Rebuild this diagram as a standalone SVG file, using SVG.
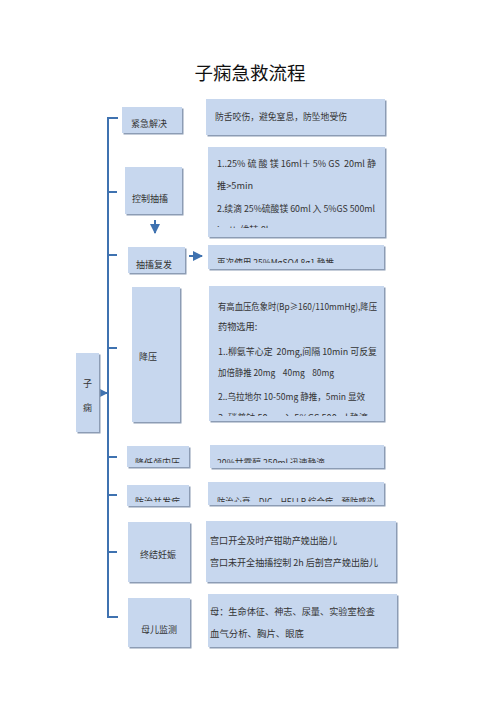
<svg xmlns="http://www.w3.org/2000/svg" width="500" height="708" viewBox="0 0 500 708">
<style>
.sh{fill:#8c9cb4}
.bx{fill:#c7d7ee}
.t{font-family:"Noto Sans CJK SC","Liberation Serif",serif;font-size:9.2px;fill:#333;white-space:pre}
.l{font-family:"Noto Sans CJK SC","Liberation Serif",serif;font-size:9px;fill:#333}
.ttl{font-family:"Noto Sans CJK SC","Liberation Serif",serif;font-size:18.5px;fill:#111}
.ln{stroke:#3f72b0;stroke-width:2;fill:none}
</style>
<defs>
<marker id="ah" viewBox="0 0 10 10" refX="9" refY="5" markerWidth="5" markerHeight="5" orient="auto">
<path d="M0,0 L10,5 L0,10 z" fill="#3f72b0"/>
</marker>
<clipPath id="c2"><rect x="200" y="140" width="200" height="88"/></clipPath>
<clipPath id="c3"><rect x="100" y="240" width="300" height="23"/></clipPath>
<clipPath id="c4"><rect x="200" y="280" width="200" height="136"/></clipPath>
<clipPath id="c5"><rect x="100" y="440" width="300" height="23"/></clipPath>
<clipPath id="c6"><rect x="100" y="480" width="300" height="22"/></clipPath>
</defs>
<rect width="500" height="708" fill="#fff"/>
<text class="ttl" x="250" y="80" text-anchor="middle">子痫急救流程</text>

<g id="connectors">
<path class="ln" d="M118,118 H108 V617 H118"/>
<path class="ln" d="M108,192 H117 M108,255 H117 M108,348 H117 M108,457 H117 M108,495 H117 M108,552 H117"/>
<path class="ln" d="M99,393 H107" marker-end="url(#ah)"/>
<path class="ln" d="M155,220 V233" marker-end="url(#ah)"/>
<path class="ln" d="M189,256 H202" marker-end="url(#ah)"/>
</g>

<g id="n-zixian">
<rect class="sh" x="77.5" y="354.5" width="23" height="79"/>
<rect class="bx" x="76" y="353" width="23" height="79"/>
<text class="l" x="87.5" y="387" text-anchor="middle">子</text>
<text class="l" x="87.5" y="411" text-anchor="middle">痫</text>
</g>

<g id="n-jinji">
<rect class="sh" x="123.5" y="108.5" width="60" height="26"/>
<rect class="bx" x="122" y="107" width="60" height="26"/>
<text class="l" x="131" y="127">紧急解决</text>
</g>
<g id="d-jinji">
<rect class="sh" x="207.5" y="100.5" width="179" height="36"/>
<rect class="bx" x="206" y="99" width="179" height="36"/>
<text class="t" x="215" y="120" textLength="132" lengthAdjust="spacingAndGlyphs">防舌咬伤，避免窒息，防坠地受伤</text>
</g>

<g id="n-kongzhi">
<rect class="sh" x="126.5" y="168.5" width="57" height="47"/>
<rect class="bx" x="125" y="167" width="57" height="47"/>
<text class="l" x="132" y="202">控制抽搐</text>
</g>
<g id="d-kongzhi">
<rect class="sh" x="209.5" y="148.5" width="177" height="90"/>
<rect class="bx" x="208" y="147" width="177" height="90"/>
<g clip-path="url(#c2)">
<text class="t" x="217" y="167" textLength="159" lengthAdjust="spacingAndGlyphs">1..25% 硫 酸 镁 16ml＋ 5% GS  20ml 静</text>
<text class="t" x="217" y="189">推&gt;5min</text>
<text class="t" x="217" y="212" textLength="158" lengthAdjust="spacingAndGlyphs">2.续滴 25%硫酸镁 60ml 入 5%GS 500ml</text>
<text class="t" x="217" y="233">ivgtt  维持 8h</text>
</g>
</g>

<g id="n-fufa">
<rect class="sh" x="129.5" y="248.5" width="57" height="26"/>
<rect class="bx" x="128" y="247" width="57" height="26"/>
<text class="l" x="136" y="268">抽搐复发</text>
</g>
<g id="d-fufa">
<rect class="sh" x="209.5" y="246.5" width="176" height="24"/>
<rect class="bx" x="208" y="245" width="176" height="24"/>
<g clip-path="url(#c3)">
<text class="t" x="217" y="266" textLength="117" lengthAdjust="spacingAndGlyphs">再次使用 25%MgSO4 8g1 静推</text>
</g>
</g>

<g id="n-jiangya">
<rect class="sh" x="133.5" y="288.5" width="48" height="135"/>
<rect class="bx" x="132" y="287" width="48" height="135"/>
<text class="l" x="139" y="360">降压</text>
</g>
<g id="d-jiangya">
<rect class="sh" x="210.5" y="287.5" width="175" height="135"/>
<rect class="bx" x="209" y="286" width="175" height="135"/>
<g clip-path="url(#c4)">
<text class="t" x="218" y="310" textLength="159" lengthAdjust="spacingAndGlyphs">有高血压危象时(Bp≥160/110mmHg),降压</text>
<text class="t" x="218" y="330">药物选用:</text>
<text class="t" x="218" y="355" textLength="159" lengthAdjust="spacingAndGlyphs">1..柳氨苄心定  20mg,间隔 10min 可反复</text>
<text class="t" x="218" y="376" textLength="116" lengthAdjust="spacingAndGlyphs">加倍静推 20mg    40mg    80mg</text>
<text class="t" x="218" y="400" textLength="147" lengthAdjust="spacingAndGlyphs">2..乌拉地尔 10-50mg 静推，5min 显效</text>
<text class="t" x="218" y="421" textLength="150" lengthAdjust="spacingAndGlyphs">3..硝普钠 50mg 入 5%GS 500ml 静滴</text>
</g>
</g>

<g id="n-lunei">
<rect class="sh" x="128.5" y="447.5" width="62" height="21"/>
<rect class="bx" x="127" y="446" width="62" height="21"/>
<g clip-path="url(#c5)"><text class="l" x="135" y="466">降低颅内压</text></g>
</g>
<g id="d-lunei">
<rect class="sh" x="211.5" y="446.5" width="174" height="23"/>
<rect class="bx" x="210" y="445" width="174" height="23"/>
<g clip-path="url(#c5)"><text class="t" x="217" y="466" textLength="108" lengthAdjust="spacingAndGlyphs">20%甘露醇 250ml 迅速静滴</text></g>
</g>

<g id="n-bingfa">
<rect class="sh" x="128.5" y="486.5" width="62" height="21"/>
<rect class="bx" x="127" y="485" width="62" height="21"/>
<g clip-path="url(#c6)"><text class="l" x="135" y="505">防治并发症</text></g>
</g>
<g id="d-bingfa">
<rect class="sh" x="209.5" y="483.5" width="176" height="23"/>
<rect class="bx" x="208" y="482" width="176" height="23"/>
<g clip-path="url(#c6)"><text class="t" x="217" y="505" textLength="158" lengthAdjust="spacingAndGlyphs">防治心衰、DIC、HELLP 综合症、预防感染</text></g>
</g>

<g id="n-zhongjie">
<rect class="sh" x="129.5" y="523.5" width="62" height="60"/>
<rect class="bx" x="128" y="522" width="62" height="60"/>
<text class="l" x="140" y="558">终结妊娠</text>
</g>
<g id="d-zhongjie">
<rect class="sh" x="207.5" y="522.5" width="190" height="61"/>
<rect class="bx" x="206" y="521" width="190" height="61"/>
<text class="t" x="210" y="544" textLength="127" lengthAdjust="spacingAndGlyphs">宫口开全及时产钳助产娩出胎儿</text>
<text class="t" x="210" y="566" textLength="168" lengthAdjust="spacingAndGlyphs">宫口未开全抽搐控制 2h 后剖宫产娩出胎儿</text>
</g>

<g id="n-jiance">
<rect class="sh" x="129.5" y="599.5" width="62" height="49"/>
<rect class="bx" x="128" y="598" width="62" height="49"/>
<text class="l" x="141" y="633">母儿监测</text>
</g>
<g id="d-jiance">
<rect class="sh" x="209.5" y="595.5" width="189" height="53"/>
<rect class="bx" x="208" y="594" width="189" height="53"/>
<text class="t" x="210" y="615" textLength="165" lengthAdjust="spacingAndGlyphs">母：生命体征、神志、尿量、实验室检查</text>
<text class="t" x="210" y="637" textLength="94" lengthAdjust="spacingAndGlyphs">血气分析、胸片、眼底</text>
</g>
</svg>
